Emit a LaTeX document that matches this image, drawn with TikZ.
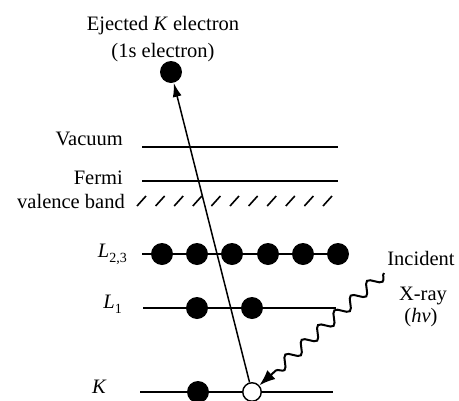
\documentclass[tikz,border=0pt]{standalone}
\usepackage{fontspec}
\setmainfont{Liberation Serif}
\usetikzlibrary{arrows.meta,decorations.pathmorphing}
\newcommand{\lowsub}[1]{\raisebox{-5pt}{\fontsize{14}{14}\selectfont #1}}
\begin{document}
\begin{tikzpicture}[x=1pt,y=-1pt,
  lbl/.style={font=\fontsize{20.5}{24}\selectfont, inner sep=0pt},
  level/.style={line width=1.7pt},
  thinlevel/.style={line width=1.2pt},
  filled/.style={circle, fill=black, minimum size=22pt, inner sep=0pt},
  hole/.style={circle, draw=black, fill=white, line width=1.4pt, minimum size=18.5pt, inner sep=0pt},
  hatch/.style={line width=1.6pt},
  ray/.style={line width=1.5pt, -{Latex[length=14pt,width=9pt]}},
  wave/.style={line width=2pt, decorate, decoration={snake, amplitude=5.5pt, segment length=22pt, post length=14pt}, -{Latex[length=16pt,width=12pt]}}
]
\useasboundingbox (0,0) rectangle (459,400);
% title
\node[lbl, anchor=base] (t1) at (163,30) {Ejected \textit{K} electron};
\node[lbl, anchor=base] (t2) at (163,57) {(1s electron)};
\node[filled] (ej) at (171,72) {};
% vacuum
\node[lbl, anchor=base east] (vac) at (123,145) {Vacuum};
\coordinate (v1) at (142,147); \coordinate (v2) at (338,147);
\draw[thinlevel] (v1) -- (v2);
% fermi
\node[lbl, anchor=base east] (fer) at (123,184) {Fermi};
\coordinate (f1) at (142,181); \coordinate (f2) at (338,181);
\draw[thinlevel] (f1) -- (f2);
% valence band
\node[lbl, anchor=base east] (val) at (125,208) {valence band};
\foreach \i in {0,...,10} {
  \draw[hatch] ({137+18.6*\i},206) -- ({146+18.6*\i},196);
}
% L23
\node[lbl, anchor=base east] (l23) at (127,257) {\textit{L}\lowsub{2,3}};
\coordinate (a1) at (142,254); \coordinate (a2) at (338,254);
\draw[level] (a1) -- (a2);
\foreach \x [count=\n] in {162,197,232,268,303,338} {
  \node[filled] (p\n) at (\x,254) {};
}
% L1
\node[lbl, anchor=base east] (l1) at (122,308) {\textit{L}\lowsub{1}};
\coordinate (b1) at (143,308); \coordinate (b2) at (336,308);
\draw[level] (b1) -- (b2);
\node[filled] (s1) at (197,308) {};
\node[filled] (s2) at (252,308) {};
% K
\node[lbl, anchor=base east] (kl) at (107,393) {\textit{K}};
\coordinate (c1) at (140,392); \coordinate (c2) at (333,392);
\draw[level] (c1) -- (c2);
\node[filled] (k1) at (198,392) {};
\node[hole] (ko) at (252,392) {};
% ray
\draw[ray] (ko) -- (ej);
% incident x-ray
\node[lbl, anchor=base] (inc) at (421,265) {Incident};
\node[lbl, anchor=base] (xr) at (423,300) {X-ray};
\node[lbl, anchor=base] (hv) at (421,322) {(\textit{hν})};
\coordinate (xs) at (384,273);
\draw[wave] (xs) -- (ko);
\end{tikzpicture}
\end{document}
